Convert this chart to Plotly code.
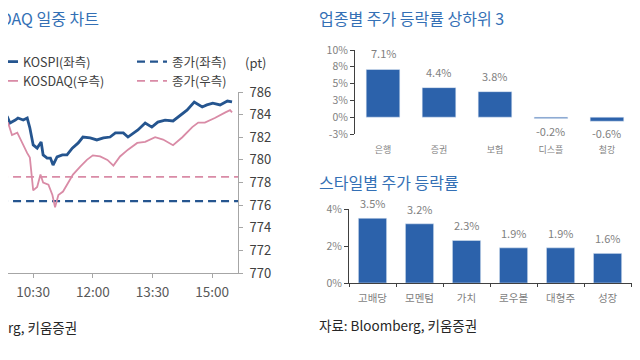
import plotly.graph_objects as go

# ---------------- data ----------------
DAY = "2024-01-01 "
kospi_time = ["09:40", "09:45", "09:51", "09:55", "10:03", "10:07", "10:15", "10:21", "10:25", "10:30",
              "10:36", "10:42", "10:45", "10:51", "10:56", "11:00", "11:06", "11:14", "11:21", "11:29",
              "11:38", "11:45", "11:56", "12:06", "12:16", "12:26", "12:34", "12:46", "12:53", "13:08",
              "13:19", "13:29", "13:38", "13:49", "14:01", "14:09", "14:22", "14:33", "14:45", "14:52",
              "15:01", "15:12", "15:23", "15:30"]
kospi = [2509.8, 2510.7, 2509.0, 2506.3, 2507.6, 2508.5, 2507.6, 2508.5, 2504.1, 2496.6,
         2495.2, 2497.9, 2492.2, 2490.8, 2490.8, 2487.7, 2491.3, 2492.2, 2492.2, 2495.2,
         2497.5, 2500.1, 2499.7, 2498.8, 2499.7, 2500.1, 2501.9, 2501.9, 2500.1, 2503.2,
         2506.3, 2504.5, 2506.7, 2507.6, 2507.2, 2509.0, 2512.0, 2515.6, 2513.4, 2514.3,
         2515.1, 2514.3, 2516.0, 2515.6]
kosdaq_time = ["09:40", "09:48", "09:52", "09:58", "10:06", "10:10", "10:15", "10:21", "10:25", "10:30",
               "10:36", "10:41", "10:45", "10:53", "10:59", "11:03", "11:08", "11:15", "11:23", "11:30",
               "11:41", "11:51", "12:00", "12:11", "12:22", "12:31", "12:41", "12:53", "13:07", "13:19",
               "13:34", "13:46", "14:01", "14:15", "14:30", "14:39", "14:49", "15:04", "15:20", "15:27",
               "15:30"]
kosdaq = [782.4, 782.9, 783.3, 782.2, 782.4, 781.9, 781.3, 780.6, 780.2, 777.3,
          777.6, 778.7, 778.0, 777.8, 776.9, 775.8, 776.9, 777.2, 778.0, 778.7,
          779.4, 780.0, 780.4, 780.3, 780.0, 779.5, 780.3, 780.9, 781.5, 781.6,
          782.0, 781.8, 781.3, 782.0, 782.9, 783.3, 783.3, 783.7, 784.2, 784.4,
          784.2]
kospi_prev_close = 2471.8
kosdaq_prev_close = 778.5
time_ticks = ["10:30", "12:00", "13:30", "15:00"]
view_start, view_end = "09:52", "15:39"

sector = ["은행", "증권", "보험", "디스플", "철강"]
sector_ret = [7.1, 4.4, 3.8, -0.2, -0.6]
sector_tickvals = [-2.5, 0, 2.5, 5, 7.5, 10]
sector_ticklabels = ["-3%", "0%", "3%", "5%", "8%", "10%"]

style = ["고배당", "모멘텀", "가치", "로우볼", "대형주", "성장"]
style_ret = [3.5, 3.2, 2.3, 1.9, 1.9, 1.6]

# ---------------- styling ----------------
# the page body adds an 8px margin, so the figure is laid out in screen pixels minus 8
OFF = 8
W, H = 640 - OFF, 360 - OFF
def px(x): return (x - OFF) / W
def py(y): return 1 - (y - OFF) / H

FONT = "Noto Sans CJK KR, Noto Sans, sans-serif"
BLUE_LINE = "#25558f"
PINK_LINE = "#d98ba6"
BAR = "#2c62ab"
TITLE = "#3470b5"
GRAY = "#7f7f7f"
DARK = "#404040"

fig = go.Figure()

t = lambda lst: [DAY + s for s in lst]
close_x = t([kospi_time[0], view_end])

fig.add_trace(go.Scatter(x=t(kospi_time), y=kospi, xaxis="x", yaxis="y", mode="lines",
                         name="KOSPI(좌측)", line=dict(color=BLUE_LINE, width=2.8),
                         legend="legend"))
fig.add_trace(go.Scatter(x=t(kosdaq_time), y=kosdaq, xaxis="x", yaxis="y2", mode="lines",
                         name="KOSDAQ(우측)", line=dict(color=PINK_LINE, width=1.8),
                         legend="legend"))
fig.add_trace(go.Scatter(x=close_x, y=[kospi_prev_close] * 2, xaxis="x", yaxis="y",
                         mode="lines", name="종가(좌측)",
                         line=dict(color=BLUE_LINE, width=2.2, dash="8px,5px"), legend="legend2"))
fig.add_trace(go.Scatter(x=close_x, y=[kosdaq_prev_close] * 2, xaxis="x", yaxis="y2",
                         mode="lines", name="종가(우측)",
                         line=dict(color=PINK_LINE, width=1.8, dash="8px,5px"), legend="legend2"))

fig.add_trace(go.Bar(x=sector, y=sector_ret, xaxis="x2", yaxis="y3", marker_color=BAR,
                     showlegend=False, hoverinfo="skip"))
fig.add_trace(go.Bar(x=style, y=style_ret, xaxis="x4", yaxis="y4", marker_color=BAR,
                     showlegend=False, hoverinfo="skip"))

# y-domain of top bar chart and zero position
top_dom = [py(134), py(50)]
top_rng = [-2.5, 10]
zero_pos = top_dom[0] + (0 - top_rng[0]) / (top_rng[1] - top_rng[0]) * (top_dom[1] - top_dom[0])

annotations = []
for c, v in zip(sector, sector_ret):
    annotations.append(dict(x=c, y=v, xref="x2", yref="y3", text=f"{v:.1f}%", showarrow=False,
                            yshift=16 if v >= 0 else -12, font=dict(size=11, color=GRAY)))
for c, v in zip(style, style_ret):
    annotations.append(dict(x=c, y=v, xref="x4", yref="y4", text=f"{v:.1f}%", showarrow=False,
                            yshift=15, font=dict(size=11, color=GRAY)))

annotations += [
    dict(x=px(101), y=py(18), xref="paper", yref="paper", xanchor="right", yanchor="middle",
         text="KOSPI, KOSDAQ 일중 차트", showarrow=False, font=dict(size=16, color=TITLE)),
    dict(x=px(317), y=py(18), xref="paper", yref="paper", xanchor="left", yanchor="middle",
         text="업종별 주가 등락률 상하위 3", showarrow=False, font=dict(size=16, color=TITLE)),
    dict(x=px(317), y=py(182), xref="paper", yref="paper", xanchor="left", yanchor="middle",
         text="스타일별 주가 등락률", showarrow=False, font=dict(size=16, color=TITLE)),
    dict(x=px(79), y=py(327), xref="paper", yref="paper", xanchor="right", yanchor="middle",
         text="자료: Bloomberg, 키움증권", showarrow=False, font=dict(size=13.5, color="#262626")),
    dict(x=px(317), y=py(325), xref="paper", yref="paper", xanchor="left", yanchor="middle",
         text="자료: Bloomberg, 키움증권", showarrow=False, font=dict(size=13.5, color="#262626")),
    dict(x=px(243), y=py(62), xref="paper", yref="paper", xanchor="left", yanchor="middle",
         text="(pt)", showarrow=False, font=dict(size=13, color=DARK)),
]

fig.update_layout(
    width=W, height=H, margin=dict(l=0, r=0, t=0, b=0, autoexpand=False),
    paper_bgcolor="white", plot_bgcolor="white",
    font=dict(family=FONT, size=11, color=DARK),
    bargap=0.4,
    annotations=annotations,
    legend=dict(x=px(-17), y=py(47), xanchor="left", yanchor="top", orientation="v",
                bgcolor="rgba(0,0,0,0)", font=dict(size=12.5, color=DARK), tracegroupgap=0,
                itemclick=False),
    legend2=dict(x=px(132), y=py(47), xanchor="left", yanchor="top", orientation="v",
                 bgcolor="rgba(0,0,0,0)", font=dict(size=12.5, color=DARK), tracegroupgap=0,
                 itemclick=False),
    # left line chart
    xaxis=dict(domain=[0, px(238)], anchor="y", type="date",
               range=[DAY + view_start, DAY + view_end],
               tickvals=t(time_ticks), tickformat="%H:%M",
               showline=True, linecolor="#a6a6a6", linewidth=1, ticks="outside", ticklen=4,
               tickcolor="#a6a6a6", tickfont=dict(size=13.5, color="#595959"), showgrid=False,
               ticklabelstandoff=3),
    yaxis=dict(domain=[py(273), py(92)], anchor="x", range=[2440, 2520], visible=False),
    yaxis2=dict(overlaying="y", side="right", anchor="x", range=[770, 786], dtick=2,
                showline=True, linecolor="#a6a6a6", ticks="outside", ticklen=4, tickcolor="#a6a6a6",
                tickfont=dict(size=13, color=DARK), showgrid=False, zeroline=False,
                ticklabelstandoff=4),
    # top bar chart
    xaxis2=dict(domain=[px(355), 1], anchor="y3", type="category", range=[-0.5, 4.59],
                showline=False, ticks="", tickfont=dict(size=9, color=GRAY), showgrid=False,
                ticklabelstandoff=9),
    xaxis3=dict(domain=[px(355), 1], overlaying="x2", anchor="free", position=zero_pos,
                range=[-0.5, 4.59], tickvals=[0.5, 1.5, 2.5, 3.5, 4.5], showticklabels=False,
                showline=True, linecolor=DARK, linewidth=1, ticks="outside", ticklen=3,
                tickcolor=DARK, showgrid=False, zeroline=False),
    yaxis3=dict(domain=top_dom, anchor="x2", range=top_rng, tickvals=sector_tickvals,
                ticktext=sector_ticklabels, showline=True, linecolor=DARK, ticks="outside",
                ticklen=4, tickcolor=DARK, tickfont=dict(size=10.5, color=GRAY), showgrid=False,
                zeroline=False),
    # bottom bar chart
    xaxis4=dict(domain=[px(349), 1], anchor="y4", type="category", range=[-0.5, 5.69],
                showline=True, linecolor=DARK, ticks="outside", tickson="boundaries", ticklen=3,
                tickcolor=DARK, tickfont=dict(size=10.5, color=GRAY), showgrid=False,
                ticklabelstandoff=5),
    yaxis4=dict(domain=[py(283), py(209)], anchor="x4", range=[0, 4], dtick=2, ticksuffix="%",
                showline=True, linecolor=DARK, ticks="outside", ticklen=4, tickcolor=DARK,
                tickfont=dict(size=10.5, color=GRAY), showgrid=False, zeroline=False),
)

fig.write_html("out.html")
